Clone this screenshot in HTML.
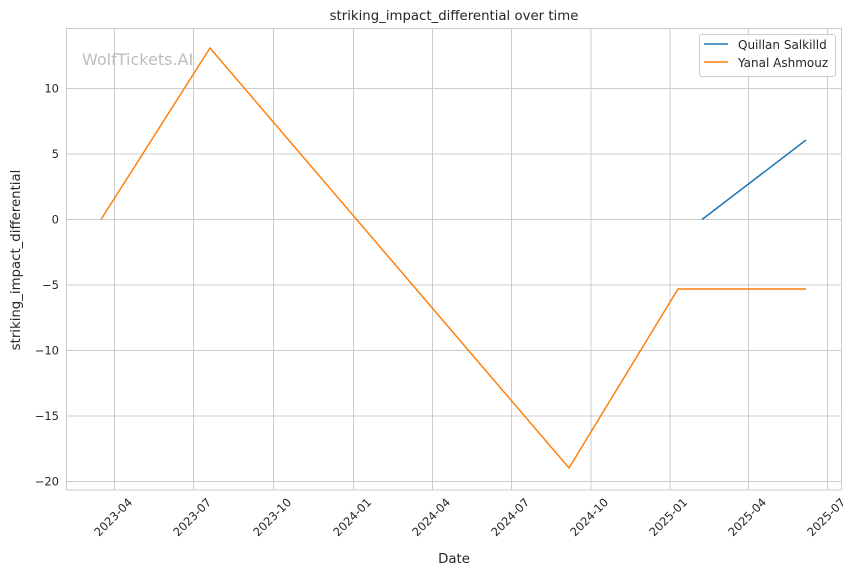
<!DOCTYPE html>
<html><head><meta charset="utf-8"><style>html,body{margin:0;padding:0;background:#fff}svg{display:block}</style></head>
<body>
<svg width="860" height="575" xmlns="http://www.w3.org/2000/svg" font-family="DejaVu Sans, Liberation Sans, sans-serif" fill="#262626">
<rect width="860" height="575" fill="#fff"/>
<g stroke="#cccccc" stroke-width="1">
<line x1="114.5" y1="28" x2="114.5" y2="490"/><line x1="193.5" y1="28" x2="193.5" y2="490"/><line x1="273.5" y1="28" x2="273.5" y2="490"/><line x1="353.5" y1="28" x2="353.5" y2="490"/><line x1="432.5" y1="28" x2="432.5" y2="490"/><line x1="511.5" y1="28" x2="511.5" y2="490"/><line x1="591" y1="28" x2="591" y2="490"/><line x1="670" y1="28" x2="670" y2="490"/><line x1="748.5" y1="28" x2="748.5" y2="490"/><line x1="827.5" y1="28" x2="827.5" y2="490"/>
<line x1="66.5" y1="88.5" x2="841.5" y2="88.5"/><line x1="66.5" y1="154" x2="841.5" y2="154"/><line x1="66.5" y1="219.5" x2="841.5" y2="219.5"/><line x1="66.5" y1="285" x2="841.5" y2="285"/><line x1="66.5" y1="350.5" x2="841.5" y2="350.5"/><line x1="66.5" y1="416" x2="841.5" y2="416"/><line x1="66.5" y1="481.5" x2="841.5" y2="481.5"/>
<rect x="66.5" y="28.5" width="775" height="461.5" fill="none"/>
</g>
<text x="82" y="65" font-size="16" fill="#bdbdbd">WolfTickets.AI</text>
<polyline fill="none" stroke="#ff7f0e" stroke-width="1.5" points="101,219.5 210,48 569,468 678,289 806,289"/>
<polyline fill="none" stroke="#1f77b4" stroke-width="1.5" points="702,219.5 806,140"/>
<g font-size="11.5" text-anchor="end">
<text x="59" y="92.5">10</text><text x="59" y="158">5</text><text x="59" y="223.5">0</text><text x="59" y="289">−5</text><text x="59" y="354.5">−10</text><text x="59" y="420">−15</text><text x="59" y="485.5">−20</text>
</g>
<g font-size="11.5" text-anchor="end">
<text transform="translate(133,503) rotate(-45)">2023-04</text>
<text transform="translate(212,503) rotate(-45)">2023-07</text>
<text transform="translate(292,503) rotate(-45)">2023-10</text>
<text transform="translate(372,503) rotate(-45)">2024-01</text>
<text transform="translate(451,503) rotate(-45)">2024-04</text>
<text transform="translate(530,503) rotate(-45)">2024-07</text>
<text transform="translate(609,503) rotate(-45)">2024-10</text>
<text transform="translate(688,503) rotate(-45)">2025-01</text>
<text transform="translate(767,503) rotate(-45)">2025-04</text>
<text transform="translate(846,503) rotate(-45)">2025-07</text>
</g>
<text x="454" y="563" font-size="13.3" text-anchor="middle">Date</text>
<text transform="translate(20,260) rotate(-90)" font-size="13.3" text-anchor="middle">striking_impact_differential</text>
<text x="454" y="20" font-size="13.3" text-anchor="middle">striking_impact_differential over time</text>
<rect x="699.5" y="34.5" width="136" height="42" rx="2.5" fill="#fff" fill-opacity="0.8" stroke="#cccccc"/>
<line x1="704" y1="44" x2="728" y2="44" stroke="#1f77b4" stroke-width="1.5"/>
<line x1="704" y1="62" x2="728" y2="62" stroke="#ff7f0e" stroke-width="1.5"/>
<g font-size="12"><text x="738" y="49">Quillan Salkilld</text><text x="738" y="67">Yanal Ashmouz</text></g>
</svg>
</body></html>
